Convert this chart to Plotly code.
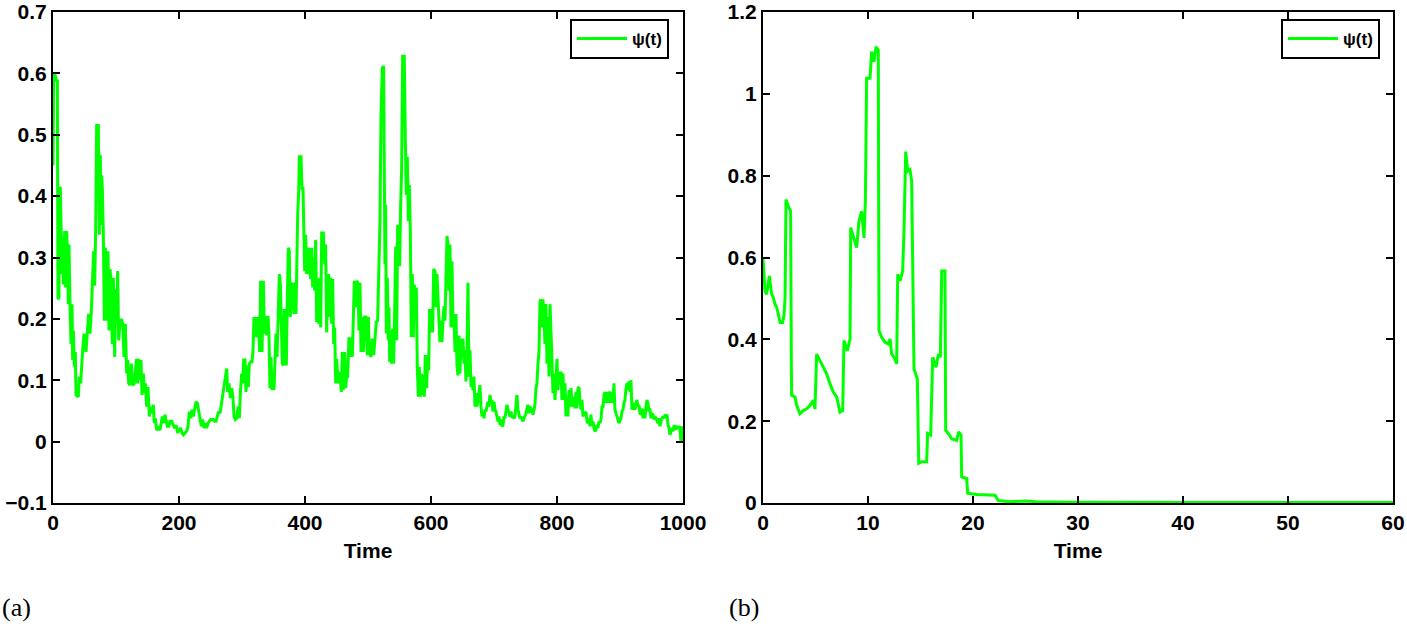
import plotly.graph_objects as go
from plotly.subplots import make_subplots

# ---------------- data: panel (a) ----------------
time_a = [
    0, 1.1, 3.7, 4.8, 6.9, 7.9, 9.5, 10.1, 11.6, 12.7,
    14.3, 15.3, 16.4, 18.5, 20.1, 21.7, 23.3, 24.3, 25.4, 27.0,
    28.6, 30.2, 31.2, 32.3, 33.9, 35.4, 36.5, 40.2, 41.8, 43.9,
    45.5, 47.1, 49.2, 52.4, 54.5, 56.6, 58.7, 60.8, 63.0, 64.5,
    66.1, 67.7, 69.3, 72.0, 73.5, 75.1, 76.2, 77.2, 78.3, 79.9,
    81.5, 83.1, 85.2, 87.3, 88.9, 90.5, 92.6, 94.2, 95.8, 97.9,
    99.5, 101.1, 102.6, 104.2, 106.3, 108.5, 110.6, 112.7, 114.8, 116.9,
    118.5, 120.1, 122.2, 124.3, 126.5, 129.1, 130.7, 132.3, 134.4, 136.0,
    138.1, 139.7, 141.3, 143.4, 145.0, 146.6, 148.7, 150.8, 152.9, 155.0,
    157.1, 159.3, 160.8, 162.4, 164.6, 167.2, 169.8, 172.0, 173.5, 175.7,
    177.8, 179.4, 181.5, 184.1, 185.7, 188.4, 191.0, 193.1, 195.2, 197.9,
    200.0, 202.6, 204.8, 206.9, 209.5, 212.2, 214.3, 216.4, 218.5, 220.6,
    222.8, 224.9, 227.0, 229.1, 231.2, 233.3, 235.4, 237.6, 239.7, 241.8,
    243.9, 246.0, 248.1, 250.3, 252.4, 254.5, 256.6, 258.7, 260.8, 263.0,
    265.1, 267.2, 269.3, 271.4, 273.5, 275.7, 277.2, 279.4, 281.5, 283.6,
    285.7, 287.3, 289.4, 291.5, 293.7, 295.8, 297.4, 299.5, 301.1, 302.6,
    304.8, 306.3, 307.9, 310.0, 311.6, 313.8, 315.9, 317.5, 319.0, 320.6,
    322.2, 324.3, 325.9, 328.0, 329.6, 331.8, 333.9, 335.4, 337.6, 339.2,
    341.3, 342.9, 344.4, 346.0, 347.6, 349.2, 350.8, 352.4, 354.0, 355.6,
    357.1, 359.3, 360.9, 362.4, 364.0, 365.6, 367.2, 368.8, 370.4, 372.0,
    373.5, 375.1, 376.7, 378.3, 380.4, 382.5, 384.1, 385.7, 387.3, 388.4,
    390.0, 391.0, 393.7, 395.2, 396.8, 397.9, 399.5, 401.1, 402.6, 404.2,
    405.8, 407.4, 409.0, 410.6, 412.2, 413.8, 415.3, 416.9, 418.5, 420.1,
    421.7, 423.3, 424.9, 426.5, 429.1, 431.2, 432.8, 434.4, 436.0, 437.6,
    439.2, 440.7, 442.3, 443.9, 445.5, 447.1, 448.7, 450.3, 452.4, 454.0,
    456.1, 457.7, 459.3, 460.8, 463.0, 464.5, 466.1, 467.7, 469.8, 471.4,
    473.6, 475.1, 476.7, 478.3, 480.4, 482.0, 484.1, 485.7, 487.3, 488.9,
    491.0, 492.6, 494.7, 496.8, 498.9, 500.5, 502.1, 504.7, 506.9, 509.0,
    511.1, 513.2, 515.3, 517.4, 519.0, 520.6, 522.7, 524.8, 525.9, 526.9,
    528.0, 529.1, 530.7, 532.2, 533.3, 534.4, 535.9, 537.5, 539.1, 540.7,
    542.3, 543.9, 545.5, 547.1, 548.6, 550.2, 551.8, 553.4, 555.0, 557.6,
    559.2, 560.8, 562.4, 564.0, 565.6, 567.2, 568.7, 570.3, 571.9, 573.5,
    575.1, 576.7, 578.3, 579.9, 581.4, 583.0, 584.6, 586.2, 587.8, 589.4,
    591.0, 593.1, 594.7, 596.3, 597.8, 599.4, 601.0, 602.6, 604.2, 606.3,
    607.9, 609.5, 611.1, 612.7, 614.2, 615.8, 617.4, 619.0, 620.6, 622.2,
    623.8, 625.4, 626.9, 628.5, 630.1, 631.7, 633.3, 634.9, 636.5, 638.1,
    639.6, 641.2, 642.8, 644.4, 646.0, 647.6, 649.2, 650.8, 652.3, 653.9,
    655.5, 657.1, 658.7, 660.3, 661.9, 663.5, 665.0, 666.6, 668.2, 669.8,
    671.4, 673.0, 674.6, 676.2, 677.7, 679.3, 680.9, 682.5, 684.1, 685.7,
    687.3, 688.9, 690.4, 692.0, 693.6, 695.2, 696.8, 698.4, 700.0, 701.6,
    703.1, 704.7, 706.3, 707.9, 709.5, 711.1, 712.7, 714.3, 715.8, 717.4,
    719.0, 720.6, 722.2, 723.8, 725.4, 727.0, 728.5, 730.1, 731.7, 733.3,
    734.9, 736.5, 738.1, 739.6, 741.2, 742.8, 744.4, 746.0, 747.6, 749.2,
    750.8, 752.3, 753.9, 755.5, 757.1, 758.7, 760.3, 761.9, 763.5, 765.0,
    766.6, 768.2, 769.8, 771.4, 773.0, 774.6, 776.2, 777.7, 779.3, 780.9,
    782.5, 784.1, 785.7, 787.3, 788.9, 790.4, 792.0, 793.6, 795.2, 796.8,
    798.4, 800.0, 801.5, 803.1, 804.7, 806.3, 807.9, 809.5, 811.1, 812.7,
    814.2, 815.8, 817.4, 819.0, 820.6, 822.2, 823.8, 825.4, 826.9, 828.5,
    830.1, 831.7, 833.3, 834.9, 836.5, 838.1, 839.6, 841.2, 842.8, 844.4,
    846.0, 847.6, 849.2, 850.8, 852.3, 853.9, 855.5, 857.1, 858.7, 860.3,
    861.9, 863.5, 865.0, 866.6, 868.2, 869.8, 871.4, 873.0, 874.6, 876.2,
    877.7, 879.3, 880.9, 882.5, 884.1, 885.7, 887.3, 888.9, 890.4, 892.0,
    893.6, 895.2, 896.8, 898.4, 900.0, 901.5, 903.1, 904.7, 906.3, 907.9,
    909.5, 911.1, 912.7, 914.2, 915.8, 917.4, 919.0, 920.6, 922.2, 923.8,
    925.4, 926.9, 928.5, 930.1, 931.7, 933.3, 934.9, 936.5, 938.1, 939.6,
    941.2, 942.8, 944.4, 946.0, 947.6, 949.2, 950.8, 952.3, 953.9, 955.5,
    957.1, 958.7, 960.3, 961.9, 963.5, 965.0, 966.6, 968.2, 969.8, 971.4,
    973.0, 974.6, 976.2, 977.7, 979.3, 980.9, 982.5, 984.1, 985.7, 987.3,
    988.9, 990.4, 992.0, 993.6, 995.2, 996.8, 997.8, 1000,
]
psi_a = [
    0.450, 0.600, 0.596, 0.588, 0.588, 0.232, 0.235, 0.413, 0.413, 0.332,
    0.273, 0.321, 0.256, 0.343, 0.251, 0.343, 0.294, 0.224, 0.321, 0.224,
    0.159, 0.224, 0.133, 0.181, 0.122, 0.146, 0.076, 0.073, 0.106, 0.095,
    0.127, 0.149, 0.176, 0.146, 0.178, 0.208, 0.176, 0.211, 0.270, 0.310,
    0.254, 0.343, 0.515, 0.515, 0.337, 0.467, 0.353, 0.434, 0.413, 0.337,
    0.197, 0.316, 0.197, 0.310, 0.181, 0.281, 0.251, 0.159, 0.267, 0.138,
    0.248, 0.192, 0.278, 0.165, 0.192, 0.200, 0.192, 0.138, 0.192, 0.111,
    0.133, 0.095, 0.092, 0.127, 0.092, 0.095, 0.114, 0.135, 0.095, 0.135,
    0.100, 0.133, 0.076, 0.111, 0.079, 0.095, 0.057, 0.089, 0.041, 0.057,
    0.046, 0.060, 0.030, 0.038, 0.019, 0.022, 0.019, 0.030, 0.041, 0.030,
    0.044, 0.036, 0.025, 0.025, 0.033, 0.033, 0.027, 0.022, 0.027, 0.014,
    0.019, 0.022, 0.014, 0.011, 0.014, 0.017, 0.025, 0.049, 0.038, 0.052,
    0.041, 0.054, 0.065, 0.063, 0.049, 0.038, 0.025, 0.036, 0.022, 0.030,
    0.022, 0.030, 0.033, 0.036, 0.036, 0.036, 0.033, 0.033, 0.041, 0.049,
    0.046, 0.060, 0.081, 0.087, 0.103, 0.119, 0.081, 0.095, 0.071, 0.087,
    0.071, 0.041, 0.036, 0.038, 0.057, 0.038, 0.079, 0.111, 0.095, 0.133,
    0.133, 0.081, 0.124, 0.089, 0.127, 0.130, 0.130, 0.149, 0.203, 0.170,
    0.203, 0.170, 0.203, 0.146, 0.262, 0.146, 0.262, 0.176, 0.205, 0.173,
    0.205, 0.170, 0.087, 0.138, 0.084, 0.108, 0.084, 0.154, 0.176, 0.138,
    0.197, 0.273, 0.256, 0.208, 0.127, 0.124, 0.216, 0.184, 0.124, 0.235,
    0.316, 0.310, 0.203, 0.235, 0.259, 0.208, 0.259, 0.208, 0.321, 0.372,
    0.407, 0.464, 0.464, 0.413, 0.413, 0.343, 0.278, 0.337, 0.273, 0.316,
    0.273, 0.316, 0.265, 0.316, 0.251, 0.300, 0.246, 0.329, 0.195, 0.265,
    0.192, 0.267, 0.186, 0.340, 0.340, 0.289, 0.321, 0.178, 0.254, 0.273,
    0.203, 0.267, 0.192, 0.265, 0.159, 0.186, 0.095, 0.135, 0.095, 0.114,
    0.100, 0.081, 0.146, 0.084, 0.146, 0.087, 0.106, 0.106, 0.170, 0.138,
    0.170, 0.138, 0.197, 0.262, 0.219, 0.262, 0.259, 0.181, 0.259, 0.146,
    0.203, 0.146, 0.203, 0.203, 0.141, 0.203, 0.146, 0.138, 0.168, 0.141,
    0.168, 0.195, 0.197, 0.278, 0.359, 0.531, 0.609, 0.612, 0.494, 0.289,
    0.386, 0.176, 0.267, 0.165, 0.219, 0.130, 0.181, 0.127, 0.184, 0.127,
    0.208, 0.318, 0.165, 0.353, 0.321, 0.286, 0.383, 0.445, 0.628, 0.628,
    0.494, 0.402, 0.464, 0.359, 0.418, 0.343, 0.170, 0.273, 0.170, 0.256,
    0.211, 0.251, 0.119, 0.073, 0.122, 0.073, 0.111, 0.076, 0.108, 0.073,
    0.141, 0.087, 0.141, 0.116, 0.216, 0.178, 0.216, 0.178, 0.281, 0.278,
    0.219, 0.273, 0.235, 0.197, 0.162, 0.197, 0.162, 0.197, 0.221, 0.197,
    0.273, 0.335, 0.321, 0.246, 0.321, 0.186, 0.294, 0.186, 0.208, 0.146,
    0.208, 0.124, 0.108, 0.173, 0.111, 0.168, 0.138, 0.168, 0.127, 0.149,
    0.098, 0.149, 0.259, 0.106, 0.149, 0.089, 0.103, 0.084, 0.106, 0.057,
    0.079, 0.057, 0.068, 0.079, 0.092, 0.057, 0.041, 0.046, 0.038, 0.052,
    0.049, 0.057, 0.065, 0.057, 0.076, 0.060, 0.068, 0.049, 0.065, 0.052,
    0.049, 0.041, 0.033, 0.041, 0.027, 0.036, 0.025, 0.027, 0.041, 0.038,
    0.046, 0.060, 0.052, 0.046, 0.041, 0.049, 0.041, 0.041, 0.038, 0.041,
    0.057, 0.076, 0.052, 0.044, 0.038, 0.041, 0.036, 0.033, 0.038, 0.041,
    0.046, 0.054, 0.060, 0.046, 0.057, 0.054, 0.049, 0.044, 0.052, 0.060,
    0.087, 0.095, 0.127, 0.146, 0.227, 0.232, 0.186, 0.232, 0.203, 0.159,
    0.224, 0.127, 0.203, 0.106, 0.224, 0.159, 0.133, 0.079, 0.111, 0.068,
    0.111, 0.135, 0.084, 0.114, 0.095, 0.114, 0.068, 0.111, 0.068, 0.095,
    0.041, 0.073, 0.041, 0.084, 0.057, 0.087, 0.065, 0.057, 0.073, 0.054,
    0.081, 0.054, 0.087, 0.089, 0.068, 0.052, 0.068, 0.041, 0.046, 0.044,
    0.049, 0.033, 0.030, 0.038, 0.025, 0.044, 0.025, 0.033, 0.022, 0.017,
    0.019, 0.027, 0.022, 0.033, 0.030, 0.036, 0.057, 0.057, 0.076, 0.081,
    0.063, 0.081, 0.063, 0.081, 0.079, 0.063, 0.081, 0.063, 0.095, 0.052,
    0.046, 0.038, 0.036, 0.030, 0.036, 0.038, 0.049, 0.052, 0.063, 0.068,
    0.087, 0.095, 0.084, 0.098, 0.081, 0.100, 0.052, 0.063, 0.057, 0.052,
    0.063, 0.068, 0.057, 0.060, 0.046, 0.044, 0.054, 0.038, 0.052, 0.038,
    0.057, 0.068, 0.063, 0.049, 0.054, 0.038, 0.046, 0.044, 0.036, 0.041,
    0.038, 0.033, 0.030, 0.038, 0.025, 0.033, 0.036, 0.041, 0.038, 0.044,
    0.041, 0.044, 0.027, 0.022, 0.011, 0.019, 0.022, 0.017, 0.025, 0.025,
    0.019, 0.025, 0.022, 0.025, 0.022, -0.002, 0.025, 0.000,
]

# ---------------- data: panel (b) ----------------
time_b = [
    0.0, 0.19, 0.35, 0.60, 0.83, 0.98, 1.14, 1.30, 1.46, 1.62,
    1.87, 2.00, 2.10, 2.19, 2.41, 2.63, 2.70, 2.73, 3.05, 3.21,
    3.52, 3.84, 4.16, 4.48, 4.79, 4.95, 5.11, 5.43, 5.75, 6.06,
    6.38, 6.70, 7.02, 7.33, 7.59, 7.71, 8.03, 8.29, 8.35, 8.60,
    8.92, 9.14, 9.40, 9.62, 9.75, 9.87, 10.19, 10.35, 10.57, 10.76,
    10.98, 11.05, 11.30, 11.62, 11.94, 12.10, 12.25, 12.57, 12.73, 12.83,
    13.05, 13.30, 13.43, 13.59, 13.78, 14.00, 14.16, 14.38, 14.70, 14.83,
    15.11, 15.59, 15.68, 15.97, 16.16, 16.48, 16.70, 16.89, 17.02, 17.33,
    17.40, 17.65, 17.97, 18.44, 18.63, 18.86, 18.92, 19.40, 19.49, 20.35,
    22.10, 22.41, 23.5, 25.0, 26.0, 30, 40, 60,
]
psi_b = [
    0.600, 0.518, 0.510, 0.555, 0.510, 0.502, 0.486, 0.478, 0.462, 0.441,
    0.441, 0.458, 0.502, 0.742, 0.725, 0.713, 0.332, 0.263, 0.259, 0.239,
    0.218, 0.226, 0.230, 0.239, 0.251, 0.230, 0.364, 0.348, 0.332, 0.316,
    0.291, 0.271, 0.259, 0.222, 0.226, 0.397, 0.372, 0.401, 0.673, 0.652,
    0.624, 0.689, 0.713, 0.648, 0.738, 1.038, 1.038, 1.103, 1.078, 1.115,
    1.107, 0.421, 0.405, 0.393, 0.389, 0.401, 0.364, 0.352, 0.340, 0.559,
    0.543, 0.567, 0.665, 0.859, 0.811, 0.815, 0.786, 0.328, 0.303, 0.097,
    0.101, 0.101, 0.170, 0.166, 0.356, 0.332, 0.364, 0.356, 0.567, 0.567,
    0.178, 0.170, 0.157, 0.153, 0.174, 0.166, 0.064, 0.060, 0.024, 0.021,
    0.019, 0.006, 0.003, 0.005, 0.003, 0.002, 0.001, 0.001,
]

series_name = "ψ(t)"
x_title = "Time"
panel_labels = ["(a)", "(b)"]
xticks_a = [0, 200, 400, 600, 800, 1000]
yticks_a = [-0.1, 0, 0.1, 0.2, 0.3, 0.4, 0.5, 0.6, 0.7]
xticks_b = [0, 10, 20, 30, 40, 50, 60]
yticks_b = [0, 0.2, 0.4, 0.6, 0.8, 1.0, 1.2]

assert len(time_a) == len(psi_a)
assert len(time_b) == len(psi_b)

# ---------------- figure ----------------
W, H = 1407, 626
GREEN = "#00ff00"
FONT = "Liberation Sans, Arial, Helvetica, sans-serif"
TOP, BOT = 12, 503          # plot-area top/bottom (px from top)
XA = (53, 683)              # panel (a) left/right
XB = (763, 1393)            # panel (b) left/right

fig = make_subplots(rows=1, cols=2)

fig.add_trace(go.Scatter(x=time_a, y=psi_a, mode="lines", name=series_name,
                         line=dict(color=GREEN, width=3), legend="legend",
                         showlegend=True), row=1, col=1)
fig.add_trace(go.Scatter(x=time_b, y=psi_b, mode="lines", name=series_name,
                         line=dict(color=GREEN, width=3), legend="legend2",
                         showlegend=True), row=1, col=2)

tick_font = dict(family=FONT, size=21, color="black", weight="bold")
ydom = [(H - BOT) / H, (H - TOP) / H]
axis_common = dict(showline=True, linecolor="black", linewidth=2, mirror="ticks",
                   ticks="inside", ticklen=7, tickwidth=2, tickcolor="black",
                   showgrid=False, zeroline=False, ticklabeloverflow="allow",
                   tickfont=tick_font)

fig.update_xaxes(axis_common)
fig.update_yaxes(axis_common)

title_font = dict(family=FONT, size=21, color="black", weight="bold")
legend_common = dict(yanchor="top", y=(H - 19) / H, xanchor="right",
                     bordercolor="black", borderwidth=2, bgcolor="white",
                     font=dict(family=FONT, size=17, color="black", weight="bold"),
                     itemwidth=50, tracegroupgap=0)

fig.update_layout(
    showlegend=True,
    xaxis=dict(domain=[XA[0] / W, XA[1] / W], range=[0, 1000], tickvals=xticks_a,
               title=dict(text=x_title, font=title_font, standoff=10)),
    yaxis=dict(domain=ydom, range=[-0.1, 0.7], tickvals=yticks_a),
    xaxis2=dict(domain=[XB[0] / W, XB[1] / W], range=[0, 60], tickvals=xticks_b,
                title=dict(text=x_title, font=title_font, standoff=10)),
    yaxis2=dict(domain=ydom, range=[0, 1.2], tickvals=yticks_b),
    width=W, height=H,
    margin=dict(l=0, r=0, t=0, b=0, autoexpand=False),
    paper_bgcolor="white", plot_bgcolor="white",
    legend=dict(legend_common, x=669 / W),
    legend2=dict(legend_common, x=1380 / W),
    annotations=[
        dict(text=panel_labels[0], xref="paper", yref="paper", x=0, y=(H - 607) / H,
             xanchor="left", yanchor="middle", showarrow=False,
             font=dict(family="Liberation Serif, DejaVu Serif, serif", size=26, color="black")),
        dict(text=panel_labels[1], xref="paper", yref="paper", x=727 / W, y=(H - 607) / H,
             xanchor="left", yanchor="middle", showarrow=False,
             font=dict(family="Liberation Serif, DejaVu Serif, serif", size=26, color="black")),
    ],
)

# remove the browser's default 8px body margin so the figure fills the window
fig.write_html("out.html",
               config={"displayModeBar": False},
               post_script="document.body.style.margin='0px';document.body.style.overflow='hidden';")
